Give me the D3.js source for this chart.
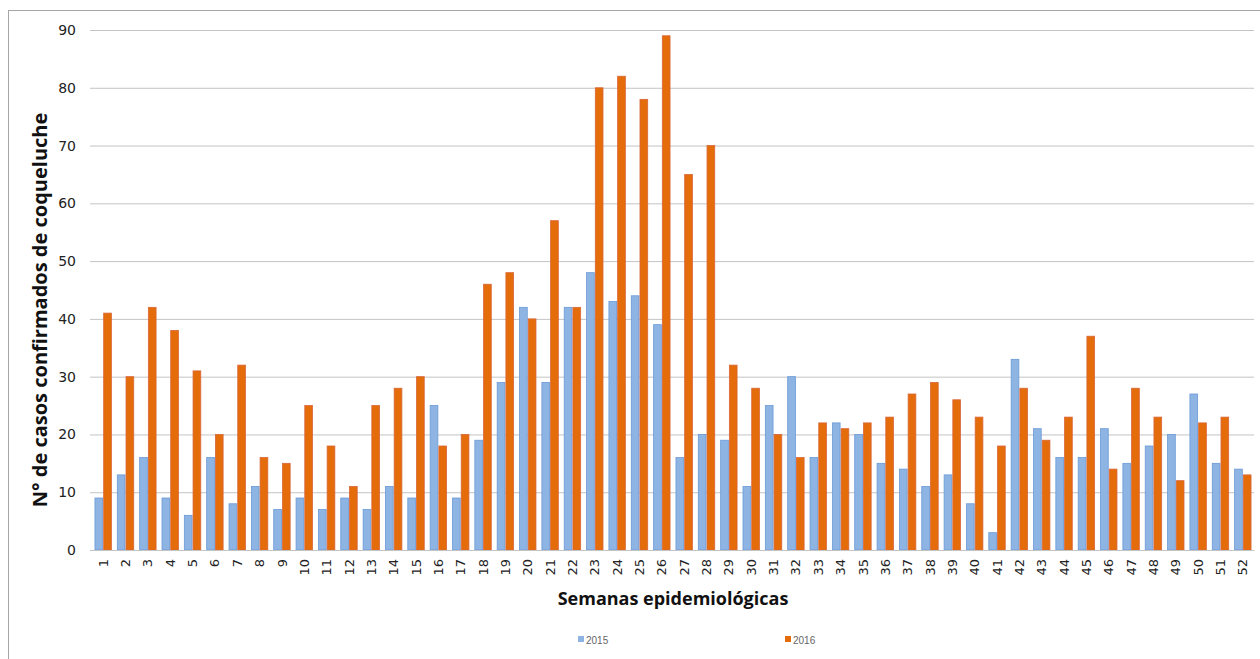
<!DOCTYPE html>
<html>
<head>
<meta charset="utf-8">
<script src="https://cdn.jsdelivr.net/npm/d3@7"></script>
<style>
  body { margin: 0; background: #fff; }
  svg { display: block; }
</style>
</head>
<body>
<svg id="chart" width="1260" height="659"></svg>
<script>
const weeks = ['1','2','3','4','5','6','7','8','9','10','11','12','13','14','15','16','17','18','19','20','21','22','23','24','25','26','27','28','29','30','31','32','33','34','35','36','37','38','39','40','41','42','43','44','45','46','47','48','49','50','51','52']
const cases2015 = [9,13,16,9,6,16,8,11,7,9,7,9,7,11,9,25,9,19,29,42,29,42,48,43,44,39,16,20,19,11,25,30,16,22,20,15,14,11,13,8,3,33,21,16,16,21,15,18,20,27,15,14]
const cases2016 = [41,30,42,38,31,20,32,16,15,25,18,11,25,28,30,18,20,46,48,40,57,42,80,82,78,89,65,70,32,28,20,16,22,21,22,23,27,29,26,23,18,28,19,23,37,14,28,23,12,22,23,13]
const seriesNames = ['2015', '2016']
const yTicks = [0,10,20,30,40,50,60,70,80,90]

const colors = { '2015': '#8db4e3', '2016': '#e46c0a' }
const strokes = { '2015': '#6b9ad6', '2016': '#d9663a' }

const margin = { top: 30, right: 6, bottom: 109, left: 92 }
const width = 1260
const height = 659

const svg = d3.select('#chart')

// outer frame (only top/left edges visible in the reference)
svg.append('rect')
  .attr('x', 8.5).attr('y', 10.5)
  .attr('width', 1300).attr('height', 700)
  .attr('fill', 'none')
  .attr('stroke', '#a6a6a6')

const xScale = d3.scaleBand()
  .domain(weeks)
  .range([margin.left, width - margin.right])
  .paddingInner(0.22)
  .paddingOuter(0.11)

const xInner = d3.scaleBand()
  .domain(seriesNames)
  .range([0, xScale.bandwidth()])

const yScale = d3.scaleLinear()
  .domain([0, 90])
  .range([height - margin.bottom, margin.top])

// grid
const yAxis = svg.append('g')
  .attr('transform', `translate(${margin.left - 2},0)`)
  .call(d3.axisLeft(yScale).tickValues(yTicks).tickSize(-(width - margin.left - margin.right + 2)).tickPadding(14))

yAxis.select('.domain').remove()
yAxis.selectAll('.tick line').attr('stroke', '#c4c4c4')
yAxis.selectAll('.tick text')
  .attr('font-family', 'DejaVu Sans, sans-serif')
  .attr('font-size', 14)
  .attr('fill', '#222')

const rows = weeks.map((w, i) => ({ week: w, values: [
  { key: '2015', value: cases2015[i] },
  { key: '2016', value: cases2016[i] },
] }))

const bars = svg.append('g')
  .selectAll('g')
  .data(rows)
  .join('g')
  .attr('transform', d => `translate(${xScale(d.week)},0)`)

bars.selectAll('rect')
  .data(d => d.values)
  .join('rect')
  .attr('x', d => xInner(d.key) + 0.5)
  .attr('y', d => yScale(d.value))
  .attr('width', xInner.bandwidth() - 1)
  .attr('height', d => yScale(0) - yScale(d.value))
  .attr('fill', d => colors[d.key])
  .attr('stroke', d => strokes[d.key])
  .attr('stroke-width', 0.8)

// x axis
const xAxis = svg.append('g')
  .attr('transform', `translate(0,${yScale(0)})`)
  .call(d3.axisBottom(xScale).tickSize(0).tickPadding(0))

xAxis.select('.domain').attr('stroke', '#c4c4c4')
xAxis.selectAll('.tick text')
  .attr('font-family', 'DejaVu Sans, sans-serif')
  .attr('font-size', 13)
  .attr('fill', '#222')
  .attr('text-anchor', 'end')
  .attr('dy', '0.35em')
  .attr('transform', 'translate(0,9) rotate(-90)')

// axis titles
svg.append('text')
  .attr('transform', `translate(47,${(yScale(0) + yScale(90)) / 2 + 20}) rotate(-90)`)
  .attr('text-anchor', 'middle')
  .attr('font-family', 'Open Sans, sans-serif')
  .attr('font-weight', 'bold')
  .attr('font-size', 20)
  .attr('fill', '#111')
  .text('N° de casos confirmados de coqueluche')

svg.append('text')
  .attr('x', 673)
  .attr('y', 605)
  .attr('text-anchor', 'middle')
  .attr('font-family', 'Open Sans, sans-serif')
  .attr('font-weight', 'bold')
  .attr('font-size', 18)
  .attr('fill', '#111')
  .text('Semanas epidemiológicas')

// legend
const legendX = { '2015': 578, '2016': 785 }
const legend = svg.append('g')
  .selectAll('g')
  .data(seriesNames)
  .join('g')
  .attr('transform', d => `translate(${legendX[d]},640)`)

legend.append('rect')
  .attr('x', 0).attr('y', -4)
  .attr('width', 6).attr('height', 6)
  .attr('fill', d => colors[d])

legend.append('text')
  .attr('x', 8).attr('y', 0)
  .attr('dy', '0.35em')
  .attr('font-family', 'Liberation Sans, sans-serif')
  .attr('font-size', 10)
  .attr('fill', '#666')
  .text(d => d)
</script>
</body>
</html>
